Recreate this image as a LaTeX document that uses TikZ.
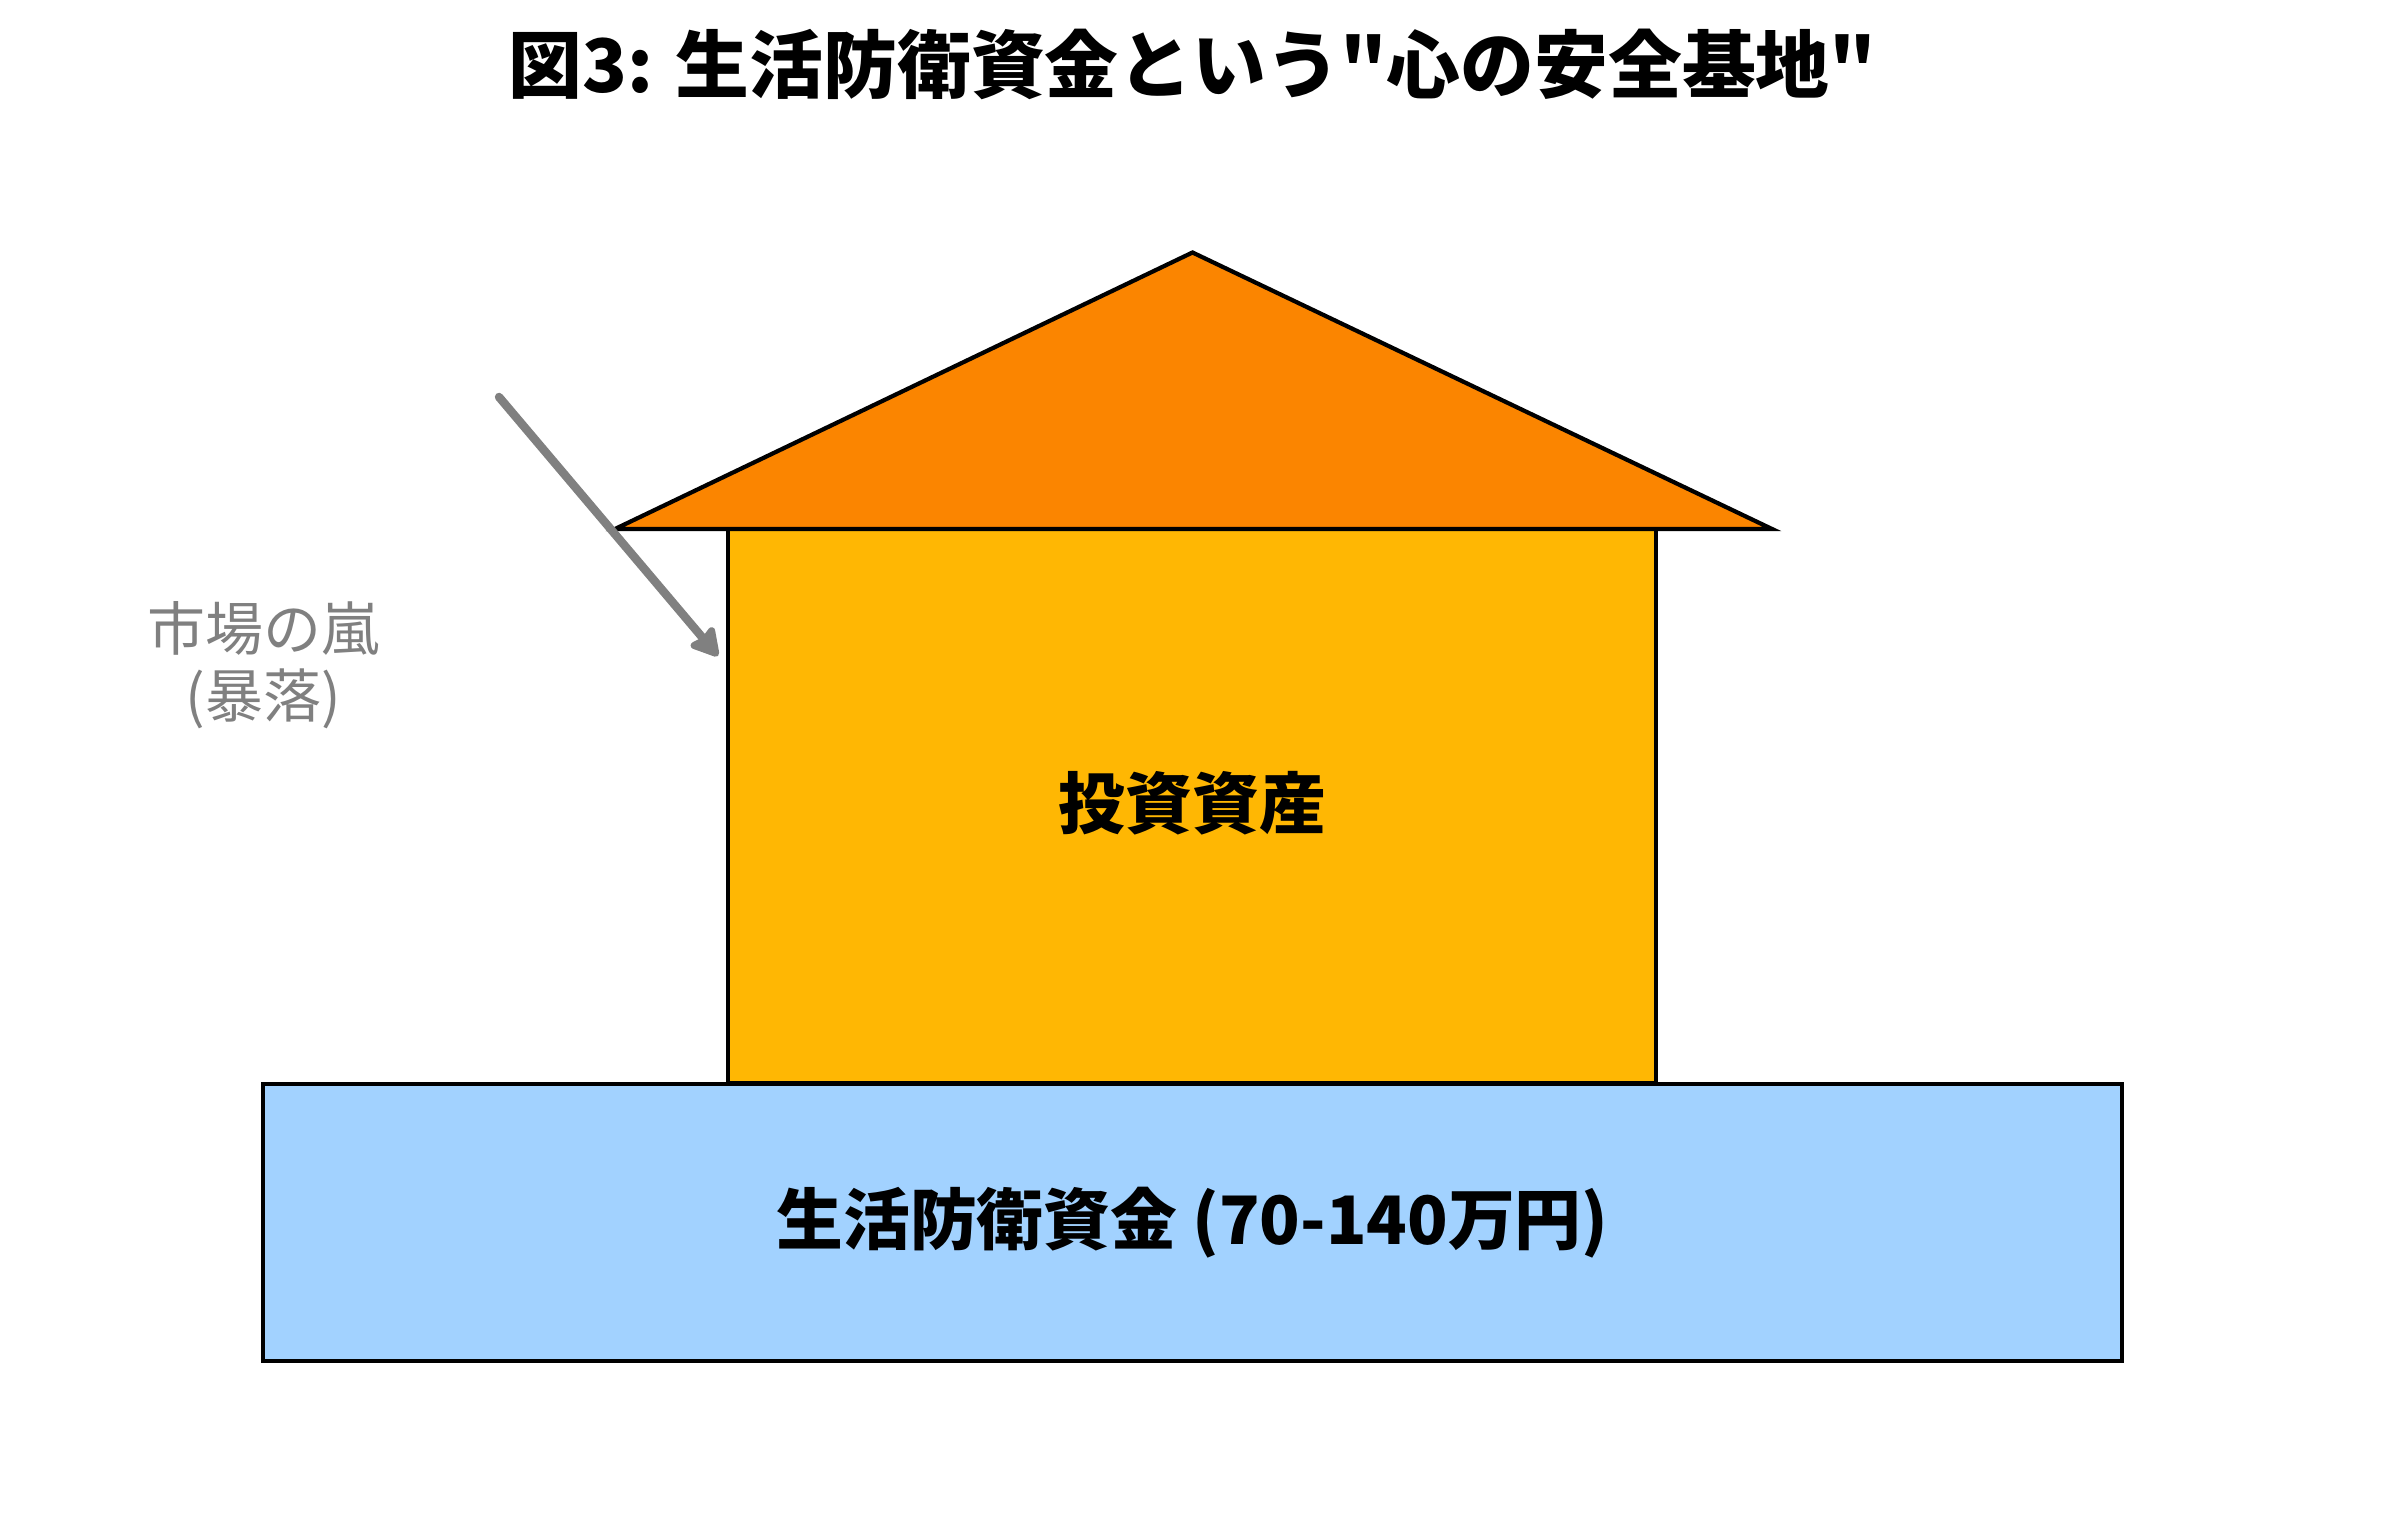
\documentclass[tikz,border=0pt]{standalone}
\usepackage{fontspec}
\setmainfont{Noto Sans CJK JP}[Ligatures=TeXOff]
\usetikzlibrary{arrows.meta}
\definecolor{roofcol}{HTML}{FB8500}
\definecolor{housecol}{HTML}{FFB703}
\definecolor{basecol}{HTML}{A2D2FF}
\definecolor{stormcol}{HTML}{808080}
\tikzset{
  block/.style={draw=black, line width=1.2pt, inner sep=0pt, font=\fontsize{19}{22}\selectfont\bfseries},
  stormarrow/.style={draw=stormcol, line width=2.4pt, line cap=round,
    -{Stealth[length=9pt,width=10pt,inset=1pt,round]}}
}
\begin{document}
\begin{tikzpicture}
  \useasboundingbox (0,0) rectangle (23.85,15.30);
  % Title
  \node[font=\fontsize{21}{25}\selectfont\bfseries] (title) at (11.925,14.66)
    {図3: 生活防衛資金という"心の安全基地"};
  % Foundation
  \node[block, fill=basecol, minimum width=18.59cm, minimum height=2.77cm] (base) at (11.925,3.075)
    {生活防衛資金 (70-140万円)};
  % House body
  \node[block, fill=housecol, minimum width=9.28cm, minimum height=5.54cm] (house) at (11.92,7.24) {};
  \node[font=\fontsize{19}{22}\selectfont\bfseries] (houselbl) at (11.925,7.27) {投資資産};
  % Roof
  \coordinate (roofL) at (6.15,10.01);
  \coordinate (roofR) at (17.72,10.01);
  \coordinate (roofT) at (11.925,12.775);
  \draw[line width=1.2pt, fill=roofcol, line join=miter] (roofL) -- (roofT) -- (roofR) -- cycle;
  % Market storm
  \coordinate (stormstart) at (4.99,11.33);
  \coordinate (stormhit) at (7.18,8.74);
  \draw[stormarrow] (stormstart) -- (stormhit);
  \node[text=stormcol, align=center, font=\fontsize{16.5}{19}\selectfont] (storm) at (2.635,8.65)
    {市場の嵐\\(暴落)};
\end{tikzpicture}
\end{document}
